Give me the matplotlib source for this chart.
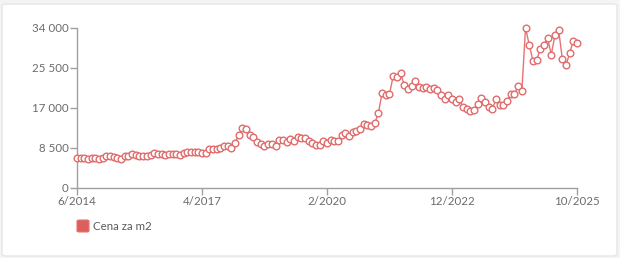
import matplotlib
matplotlib.use("Agg")
import matplotlib.pyplot as plt
from matplotlib.patches import FancyBboxPatch
import numpy as np

plt.rcParams['font.family'] = ['Lato', 'DejaVu Sans']

# Monthly price per m2, 6/2014 .. 10/2025
values = [
    6370, 6330, 6330, 6200, 6370, 6370, 6250, 6460, 6880, 6740,
    6600, 6320, 6200, 6740, 6880, 7160, 7020, 6740, 6740, 6880,
    7020, 7440, 7300, 7230, 7020, 7160, 7160, 7300, 7020, 7370,
    7650, 7720, 7720, 7650, 7370, 7440, 8290, 8360, 8220, 8570,
    8930, 9000, 8570, 9630, 11260, 12750, 12470, 11260, 10840, 9770,
    9280, 8860, 9280, 9350, 8930, 10140, 10280, 9840, 10490, 10070,
    10910, 10620, 10620, 9920, 9650, 9220, 9220, 10070, 9650, 10200,
    9920, 9920, 11350, 11620, 11050, 11900, 12200, 12470, 13600, 13320,
    13180, 13750, 16020, 20270, 19700, 19980, 23800, 23520, 24370, 21970,
    21120, 21670, 22670, 21400, 21260, 21400, 21120, 21260, 20820, 19840,
    18990, 19700, 18850, 18270, 18850, 17150, 16870, 16300, 16580, 17850,
    19120, 18270, 17300, 16870, 18850, 17720, 17580, 18570, 19980, 19980,
    21670, 20550, 34000, 30470, 27070, 27140, 29470, 30470, 31870, 28350,
    32450, 33580, 27500, 26070, 28620, 31320, 30900,
]
x_tick_labels = ["6/2014", "4/2017", "2/2020", "12/2022", "10/2025"]
x_tick_pos = [0, 34, 68, 102, 136]
y_ticks = [0, 8500, 17000, 25500, 34000]
y_tick_labels = ["0", "8 500", "17 000", "25 500", "34 000"]
series_name = "Cena za m2"

W, H = 620, 258
fig = plt.figure(figsize=(W / 100, H / 100), dpi=100)
fig.patch.set_facecolor("#f4f4f4")

card = FancyBboxPatch((2 / W, 2 / H), (W - 5) / W, (H - 6) / H,
                      boxstyle="round,pad=0,rounding_size=0.008",
                      transform=fig.transFigure, facecolor="white",
                      edgecolor="#e6e6e6", linewidth=1.0, zorder=-10)
fig.patches.append(card)

ax = fig.add_axes([77 / W, 1 - 188 / H, 500 / W, 160 / H])
ax.set_zorder(5)
ax.set_facecolor("none")
x = np.arange(len(values))
ax.plot(x, values, color="#e57373", lw=1.0, marker="o", ms=4.8,
        mfc="white", mec="#e06c6c", mew=1.0, zorder=3, clip_on=False)

ax.set_xlim(0, 136)
ax.set_ylim(0, 34000)
ax.set_xticks(x_tick_pos)
ax.set_xticklabels(x_tick_labels)
ax.set_yticks(y_ticks)
ax.set_yticklabels(y_tick_labels)

for s in ["top", "right"]:
    ax.spines[s].set_visible(False)
for s in ["left", "bottom"]:
    ax.spines[s].set_color("#a0a0a0")
    ax.spines[s].set_linewidth(1.0)
ax.tick_params(colors="#a0a0a0", labelcolor="#6b6b6b", labelsize=8.3,
               length=5, width=1.0, pad=1)

# Legend
fig.patches.append(FancyBboxPatch((77 / W, 1 - 232 / H), 12 / W, 12 / H,
                                  boxstyle="round,pad=0,rounding_size=0.004",
                                  transform=fig.transFigure,
                                  facecolor="#dd5f5b", edgecolor="#e57373",
                                  linewidth=0.8, zorder=1))
fig.text(93 / W, 1 - 226 / H, series_name, ha="left", va="center",
         fontsize=8.3, color="#5a5a5a", zorder=2)

fig.savefig("out.png", dpi=100, facecolor=fig.get_facecolor())
